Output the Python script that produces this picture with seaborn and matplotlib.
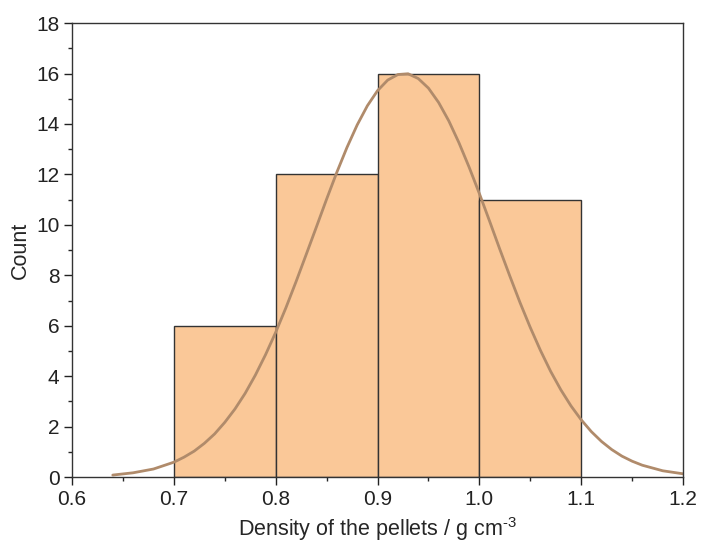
import numpy as np
import seaborn as sns
from matplotlib import pyplot as plt
from matplotlib.ticker import MultipleLocator

# Histogramm-Daten
bin_edges = [0.7, 0.8, 0.9, 1.0, 1.1]
bin_centers = [0.75, 0.85, 0.95, 1.05]
counts = [6, 12, 16, 11]

curve_x = [0.64, 0.66, 0.68, 0.70, 0.71, 0.72, 0.73, 0.74, 0.75, 0.76, 0.77, 0.78,
           0.79, 0.80, 0.81, 0.82, 0.83, 0.84, 0.85, 0.86, 0.87, 0.88, 0.89, 0.90,
           0.91, 0.92, 0.93, 0.94, 0.95, 0.96, 0.97, 0.98, 0.99, 1.00, 1.01, 1.02,
           1.03, 1.04, 1.05, 1.06, 1.07, 1.08, 1.09, 1.10, 1.11, 1.12, 1.13, 1.14,
           1.15, 1.16, 1.18, 1.20]
curve_y = [0.08, 0.17, 0.32, 0.59, 0.79, 1.03, 1.34, 1.71, 2.17, 2.70, 3.32, 4.04,
           4.85, 5.74, 6.71, 7.75, 8.83, 9.92, 11.02, 12.08, 13.07, 13.96, 14.72, 15.32,
           15.74, 15.96, 15.99, 15.80, 15.42, 14.85, 14.12, 13.25, 12.28, 11.24, 10.15, 9.04,
           7.96, 6.91, 5.93, 5.02, 4.19, 3.46, 2.82, 2.27, 1.80, 1.41, 1.09, 0.83,
           0.63, 0.47, 0.25, 0.13]

sns.set_style("ticks")
plt.rcParams['font.family'] = ['Liberation Sans', 'DejaVu Sans']
plt.rcParams['mathtext.fontset'] = 'custom'
plt.rcParams['mathtext.rm'] = 'Liberation Sans'
plt.rcParams['mathtext.default'] = 'regular'

fig = plt.figure(figsize=(7.02, 5.49), dpi=100)
ax = fig.add_axes([0.1026, 0.131, 0.8704, 0.827])

sns.histplot(x=bin_centers, weights=counts, bins=bin_edges, ax=ax,
             color="#FAC898", alpha=1, edgecolor="#333333", linewidth=1)
sns.lineplot(x=curve_x, y=curve_y, ax=ax, color="#B08B6B", linewidth=2)

ax.set_xlim(0.6, 1.2)
ax.set_ylim(0, 18)
ax.xaxis.set_major_locator(MultipleLocator(0.1))
ax.xaxis.set_minor_locator(MultipleLocator(0.05))
ax.yaxis.set_major_locator(MultipleLocator(2))
ax.yaxis.set_minor_locator(MultipleLocator(1))
ax.set_xticklabels([f"{v:.1f}" for v in ax.get_xticks()])
ax.tick_params(which='major', direction='out', length=6, width=1, labelsize=15,
               colors='#222222', pad=3)
ax.tick_params(which='minor', direction='out', length=3, width=1)
for s in ax.spines.values():
    s.set_visible(True)
    s.set_linewidth(1)
    s.set_color('#333333')

ax.set_xlabel("Density of the pellets / g cm$^{\u2010 3}$", fontsize=15.5, labelpad=5)
ax.set_ylabel("Count", fontsize=15.5, labelpad=4)

plt.savefig("out.png", dpi=100)
